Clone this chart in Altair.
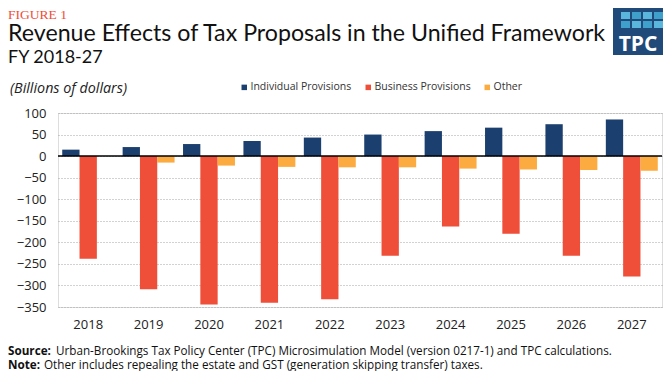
import altair as alt
import pandas as pd

years = ["2018", "2019", "2020", "2021", "2022", "2023", "2024", "2025", "2026", "2027"]
series = ["Individual Provisions", "Business Provisions", "Other"]
individual = [15, 21, 28, 35, 43, 50, 58, 66, 74, 85]
business = [-238, -309, -344, -340, -332, -231, -163, -180, -231, -279]
other = [0, -15, -22, -25, -26, -26, -29, -31, -32, -34]
colors = ["#1b3f6e", "#ef4e38", "#fcab40"]
y_ticks = [100, 50, 0, -50, -100, -150, -200, -250, -300, -350]

rows = []
for i, yr in enumerate(years):
    for s, vals in zip(series, [individual, business, other]):
        rows.append({"year": yr, "series": s, "value": vals[i]})
df = pd.DataFrame(rows)

FONT = "Lato"
SMALL = "Open Sans"
W, H = 604, 194

y_scale = alt.Scale(domain=[-350, 100], nice=False)
y_axis = alt.Axis(values=y_ticks, ticks=False, domain=False, labelPadding=12,
                  labelOverlap=False, labelBound=False, labelFlush=False,
                  labelFontSize=13, labelFont=SMALL, labelColor="#222",
                  grid=True, gridDash=[1, 2], gridColor="#a5a5a5", gridWidth=1)

bars = alt.Chart(df).mark_bar().encode(
    x=alt.X("year:N", title=None, sort=years,
            scale=alt.Scale(paddingInner=0.14, paddingOuter=0.07),
            axis=alt.Axis(labelAngle=0, ticks=False, domain=False, labelPadding=11,
                          labelFontSize=13, labelFont=SMALL, labelColor="#222")),
    xOffset=alt.XOffset("series:N", sort=series, scale=alt.Scale(paddingInner=0, paddingOuter=0)),
    y=alt.Y("value:Q", title=None, scale=y_scale, axis=y_axis),
    color=alt.Color("series:N", sort=series,
                    scale=alt.Scale(domain=series, range=colors),
                    legend=alt.Legend(title=None, orient="none", direction="horizontal",
                                      legendX=181, legendY=-31, symbolType="square",
                                      symbolSize=30, symbolStrokeWidth=0, labelFont=SMALL,
                                      labelFontSize=10.5, labelColor="#333", labelOffset=1,
                                      columnPadding=11)),
)

zero = alt.Chart(pd.DataFrame({"value": [0]})).mark_rule(color="#000", strokeWidth=1.5).encode(
    y=alt.Y("value:Q", title=None, scale=y_scale, axis=y_axis))

def txt(s, x, y, size, color="#111", weight="normal", style="normal", font=SMALL, align="left"):
    return alt.Chart(pd.DataFrame({"t": [s]})).mark_text(
        align=align, baseline="alphabetic", fontSize=size, color=color,
        fontWeight=weight, fontStyle=style, font=font
    ).encode(text="t:N", x=alt.value(x), y=alt.value(y))

texts = [
    txt("FIGURE 1", -50, -94.5, 13.5, color="#ef4e38", font="Liberation Serif"),
    txt("Revenue Effects of Tax Proposals in the Unified Framework", -50, -72, 23.2, color="#111", font=FONT),
    txt("FY 2018-27", -50, -50, 18, color="#111", font=FONT),
    txt("(Billions of dollars)", -48, -20, 14.3, color="#222", style="italic"),
    txt("Source:", -50, 242, 11.7, color="#111", weight="bold"),
    txt("Urban-Brookings Tax Policy Center (TPC) Microsimulation Model (version 0217-1) and TPC calculations.",
        -2, 242, 11.7, color="#111"),
    txt("Note:", -50, 256, 11.7, color="#111", weight="bold"),
    txt("Other includes repealing the estate and GST (generation skipping transfer) taxes.",
        -14, 256, 11.7, color="#111"),
]

# TPC logo (decoration)
logo_bg = alt.Chart(pd.DataFrame({"a": [1]})).mark_rect(color="#1f4a7a").encode(
    x=alt.value(555), x2=alt.value(606), y=alt.value(-105), y2=alt.value(-58))
squares = []
for r in range(2):
    for c in range(4):
        x0 = 563 + c * 11
        y0 = -101 + r * 9
        squares.append(alt.Chart(pd.DataFrame({"a": [1]})).mark_rect(color="#5ab6dc" if (r + c) % 2 == 0 else "#3fa0cc").encode(
            x=alt.value(x0), x2=alt.value(x0 + 9), y=alt.value(y0), y2=alt.value(y0 + 7)))
logo_txt = txt("TPC", 580, -62, 21, color="#ffffff", weight="bold", font="Open Sans", align="center")

chart = alt.layer(bars, zero, *texts, logo_bg, *squares, logo_txt).properties(
    width=W, height=H,
    autosize=alt.AutoSizeParams(type="none"),
    padding={"left": 50, "top": 105, "right": 1, "bottom": 64},
).configure_view(stroke=None).configure(background="#ffffff")

chart.save("out.html", embed_options={"renderer": "svg", "actions": False})
